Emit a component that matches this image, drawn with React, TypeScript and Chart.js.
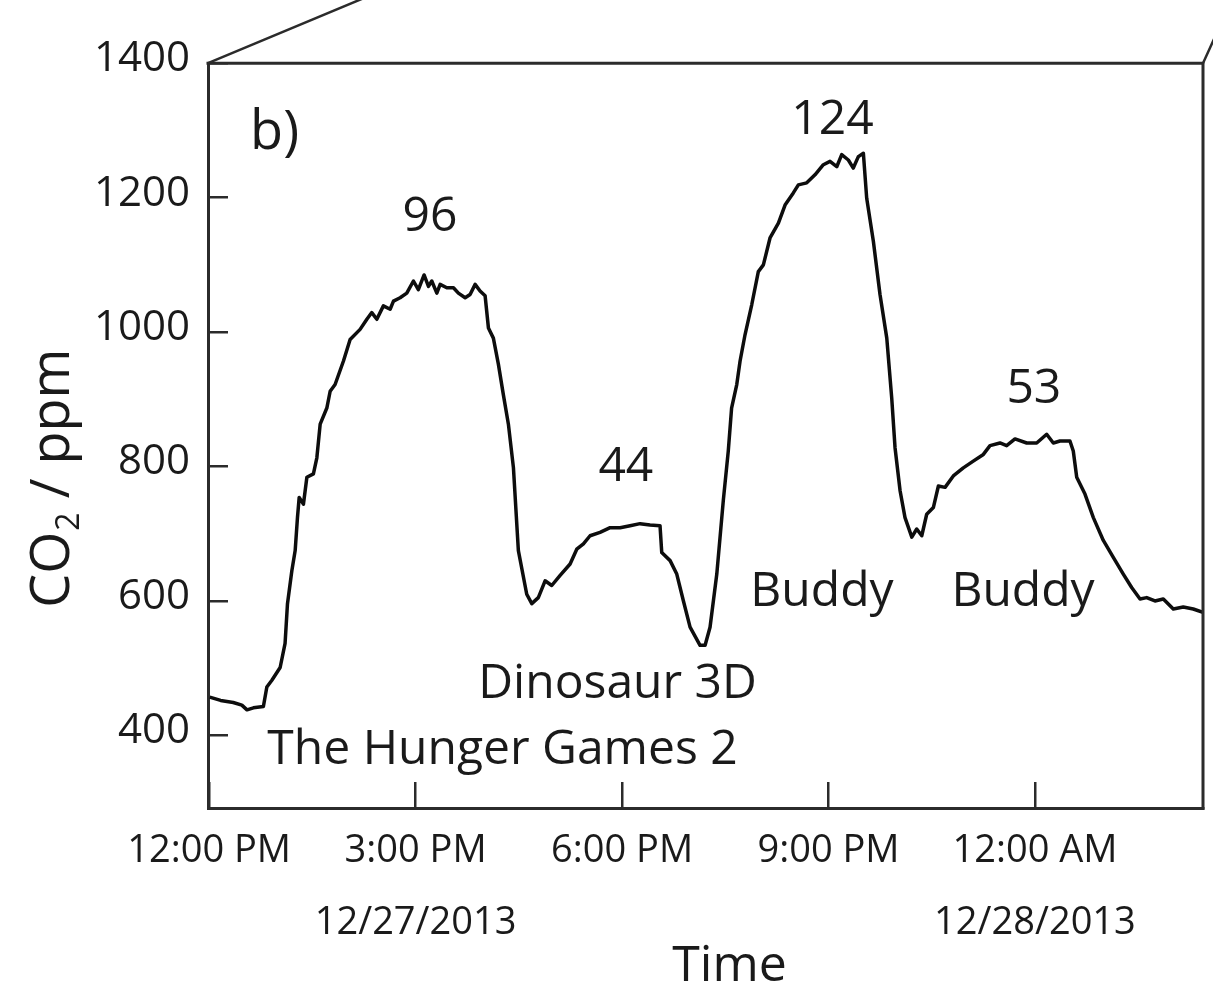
import React, { useEffect, useRef } from "react";
import { Chart, registerables } from "chart.js";

Chart.register(...registerables);

// ---- data (time in minutes after 12:00 PM on 12/27/2013, CO2 in ppm) ----
const TIME_MIN = [
  0.5, 10, 21, 28.5, 33, 38.6, 47.3, 50.3, 54.7, 61.9, 66.2, 68.3, 72.1, 75, 77, 78.5, 82.2, 85.2, 90.9,
  93.9, 96.8, 102.6, 105.5, 109.8, 117.1, 122.9, 131.6, 137.5, 141.8, 146.2, 151.9, 157.8, 160.7, 166.5,
  172.3, 178.1, 182.4, 187.4, 191.2, 194.1, 198.5, 201.4, 207.2, 213, 217.3, 223.2, 227.5, 231.9, 236.2,
  240.6, 243.5, 247.8, 252.2, 256.5, 260.9, 265.3, 269.6, 276.9, 281.3, 287, 292.9, 298.7, 306, 314.7,
  320.5, 326.3, 332.1, 340.8, 349.6, 358.3, 367, 375.7, 384.4, 393.1, 394.6, 401.9, 407.7, 413.5, 419.3,
  428, 432.4, 436.7, 442.6, 448.3, 452.6, 455.5, 460, 462.9, 467.2, 473.1, 478.8, 483.2, 489, 496.3,
  502.1, 509.3, 513.7, 521, 528.2, 535.5, 541.3, 547.2, 551.5, 557.3, 561.6, 566, 570.4, 573.3, 579.1,
  584.9, 590.8, 595.1, 598, 602.4, 606.7, 612.6, 616.9, 621.3, 625.6, 631.4, 635.8, 641.6, 648.8, 657.5,
  666.2, 675, 680.8, 689.5, 695.3, 702.6, 712.8, 721.5, 730.2, 736, 741.8, 750.5, 753.4, 756.4, 763.6,
  770.9, 779.6, 788.3, 797, 804.3, 811.6, 817.4, 824.6, 831.9, 840.6, 849.3, 858, 866.5,
];
const CO2_PPM = [
  457, 452, 449, 445, 438, 441, 443, 472, 482, 501, 537, 596, 645, 675, 724, 754, 744, 784, 789,
  813, 863, 887, 912, 922, 957, 989, 1004, 1019, 1029, 1019, 1039, 1034, 1046, 1051,
  1058, 1076, 1063, 1085, 1068, 1076, 1058, 1071, 1066, 1066, 1058, 1051, 1056, 1071, 1061,
  1054, 1006, 991, 952, 907, 863, 798, 675, 610, 596, 605, 630, 623, 638, 655,
  677, 685, 697, 702, 709, 709, 712, 715, 713, 712, 672, 660, 640, 600, 561,
  534, 534, 561, 640, 750, 823, 887, 922, 957, 996, 1041, 1090, 1100, 1140, 1162,
  1189, 1207, 1219, 1222, 1234, 1249, 1254, 1246, 1264, 1256, 1244, 1261, 1266, 1199, 1135,
  1056, 991, 902, 828, 764, 724, 695, 707, 697, 729, 739, 771, 769, 786, 798,
  808, 818, 831, 835, 831, 841, 835, 835, 848, 835, 838, 838, 823, 784, 759,
  724, 690, 665, 640, 620, 603, 605, 600, 603, 588, 591, 588, 583,
];

const X_TICK_VALUES = [0, 180, 360, 540, 720];
const X_TICK_TIMES = ["12:00 PM", "3:00 PM", "6:00 PM", "9:00 PM", "12:00 AM"];
const X_TICK_DATES = ["", "12/27/2013", "", "", "12/28/2013"];
const Y_TICK_VALUES = [400, 600, 800, 1000, 1200, 1400];

// annotations anchored in data space (minutes, ppm) – text centre / baseline
const NOTE_TEXT = ["96", "124", "44", "53", "The Hunger Games 2", "Dinosaur 3D", "Buddy", "Buddy"];
const NOTE_X = [192.6, 543.5, 363.3, 719, 255.8, 356.1, 534.3, 709.6];
const NOTE_Y = [1150, 1295, 779, 894, 358, 456, 593, 593];

const PANEL_LABEL = "b)";
const PANEL_X = 35.7;
const PANEL_Y = 1273;

const Y_TITLE_MAIN = "CO";
const Y_TITLE_SUB = "2";
const Y_TITLE_REST = " / ppm";
const X_TITLE = "Time";

const FONT = "'Open Sans', 'Noto Sans', sans-serif";
const INK = "#1a1a1a";
const FRAME = "#2b2b2b";

const decor = {
  id: "decor",
  afterDraw(chart: any) {
    const { ctx, chartArea: a, scales } = chart;
    const xs = scales.x;
    const ys = scales.y;
    ctx.save();
    // top / right frame and perspective lines
    ctx.strokeStyle = FRAME;
    ctx.lineWidth = 3;
    ctx.lineCap = "square";
    ctx.beginPath();
    ctx.moveTo(a.left, a.top);
    ctx.lineTo(a.right, a.top);
    ctx.lineTo(a.right, a.bottom);
    ctx.stroke();
    ctx.lineWidth = 2.5;
    ctx.lineCap = "butt";
    ctx.beginPath();
    ctx.moveTo(a.left, a.top);
    ctx.lineTo(a.left + 220, a.top - (220 * 61) / 146);
    ctx.moveTo(a.right, a.top);
    ctx.lineTo(a.right + 20, a.top - 44);
    ctx.stroke();

    ctx.fillStyle = INK;
    ctx.textBaseline = "alphabetic";
    // annotations
    ctx.textAlign = "center";
    ctx.font = `48px ${FONT}`;
    NOTE_TEXT.forEach((t, i) => {
      ctx.fillText(t, xs.getPixelForValue(NOTE_X[i]), ys.getPixelForValue(NOTE_Y[i]));
    });
    // panel label
    ctx.textAlign = "left";
    ctx.font = `54px ${FONT}`;
    ctx.fillText(PANEL_LABEL, xs.getPixelForValue(PANEL_X), ys.getPixelForValue(PANEL_Y));

    // x title
    ctx.textAlign = "center";
    ctx.font = `50px ${FONT}`;
    ctx.fillText(X_TITLE, (a.left + a.right) / 2 + 24, 981);

    // y title with subscript
    ctx.translate(69, ys.getPixelForValue(590));
    ctx.rotate(-Math.PI / 2);
    ctx.textAlign = "left";
    ctx.font = `54px ${FONT}`;
    ctx.fillText(Y_TITLE_MAIN, 0, 0);
    let w = ctx.measureText(Y_TITLE_MAIN).width;
    ctx.font = `32px ${FONT}`;
    ctx.fillText(Y_TITLE_SUB, w + 1, 10);
    w += ctx.measureText(Y_TITLE_SUB).width + 1;
    ctx.font = `54px ${FONT}`;
    ctx.fillText(Y_TITLE_REST, w, 0);
    ctx.restore();
  },
};

export default function App() {
  const ref = useRef<HTMLCanvasElement | null>(null);
  useEffect(() => {
    if (!ref.current) return;
    const points = TIME_MIN.map((x, i) => ({ x, y: CO2_PPM[i] }));
    const chart = new Chart(ref.current, {
      type: "line",
      data: {
        datasets: [
          {
            data: points,
            borderColor: "#0d0d0d",
            borderWidth: 3.5,
            pointRadius: 0,
            tension: 0,
            fill: false,
            borderJoinStyle: "round",
          } as any,
        ],
      },
      options: {
        animation: false,
        responsive: false,
        events: [],
        layout: { padding: { top: 61, right: 10, left: 0, bottom: 0 } },
        plugins: { legend: { display: false }, tooltip: { enabled: false }, title: { display: false } },
        scales: {
          x: {
            type: "linear",
            min: -1,
            max: 866.5,
            afterBuildTicks: (s: any) => {
              s.ticks = X_TICK_VALUES.map((v) => ({ value: v }));
            },
            afterFit: (s: any) => {
              s.height = 186;
            },
            ticks: {
              autoSkip: false,
              maxRotation: 0,
              minRotation: 0,
              padding: 33,
              color: INK,
              font: { family: FONT, size: 38, lineHeight: 1.9 },
              callback: (v: any) => {
                const i = X_TICK_VALUES.indexOf(Number(v));
                if (i < 0) return "";
                return X_TICK_DATES[i] ? [X_TICK_TIMES[i], X_TICK_DATES[i]] : X_TICK_TIMES[i];
              },
            },
            grid: { drawOnChartArea: false, drawTicks: true, tickLength: -26, color: FRAME, lineWidth: 2.5 },
            border: { display: true, color: FRAME, width: 3 },
          },
          y: {
            type: "linear",
            min: 292,
            max: 1400,
            afterBuildTicks: (s: any) => {
              s.ticks = Y_TICK_VALUES.map((v) => ({ value: v }));
            },
            afterFit: (s: any) => {
              s.width = 208;
            },
            ticks: {
              padding: 38,
              labelOffset: -4,
              color: INK,
              font: { family: FONT, size: 42 },
              callback: (v: any) => String(v),
            },
            grid: { drawOnChartArea: false, drawTicks: true, tickLength: -20, color: FRAME, lineWidth: 2.5 },
            border: { display: true, color: FRAME, width: 3 },
          },
        },
      },
      plugins: [decor],
    });
    return () => chart.destroy();
  }, []);
  return (
    <canvas
      ref={ref}
      width={1213}
      height={994}
      style={{ position: "absolute", left: 0, top: 0, display: "block", background: "#fff" }}
    />
  );
}
